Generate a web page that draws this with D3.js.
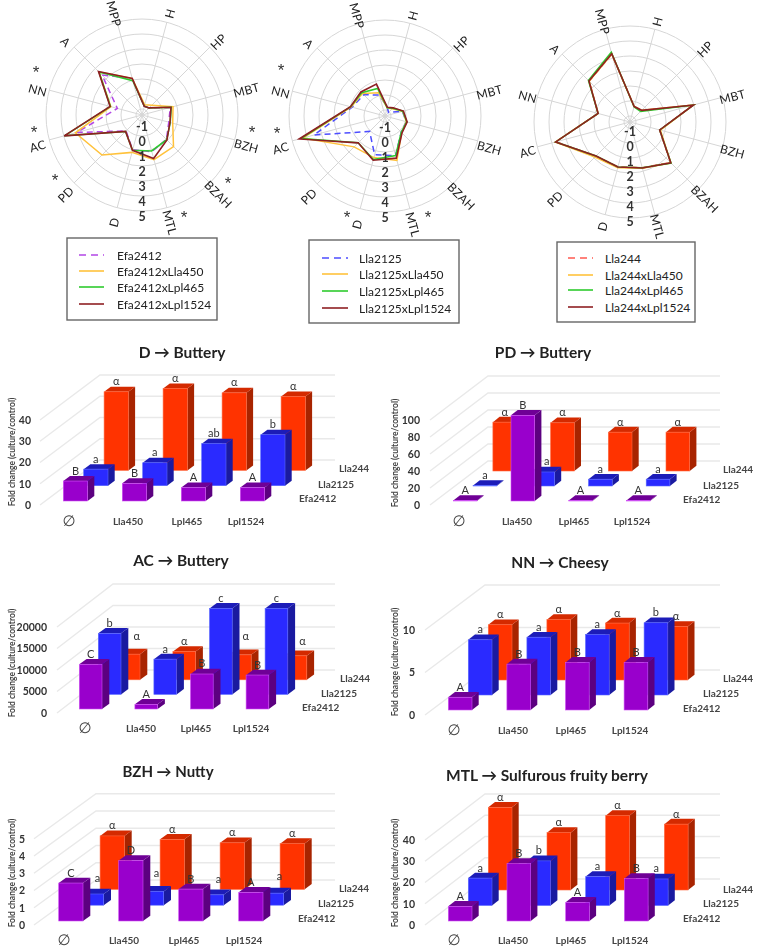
<!DOCTYPE html>
<html><head><meta charset="utf-8">
<script src="https://cdn.jsdelivr.net/npm/d3@7"></script>
<style>
html,body{margin:0;padding:0;background:#fff}
svg{display:block;filter:blur(0.45px);font-family:Lato,"Open Sans",sans-serif}
</style></head><body><div id="c"></div>
<script>
// ---------- radar data ----------
const attributes = ["H","HP","MBT","BZH","BZAH","MTL","D","PD","AC","NN","A","MPP"];
const radarTicks = [-1,0,1,2,3,4,5];
const radar1Names = ["Efa2412","Efa2412xLla450","Efa2412xLpl465","Efa2412xLpl1524"];
const radar1Base   = [-0.8,-0.73,0.55,0.45,0.9,1.13,1.0,0.1,3.1,0.3,2.37,1.13];
const radar1Lla450 = [-0.7,-0.47,0.74,0.72,1.57,1.68,1.18,2.37,3.2,0.75,2.65,1.13];
const radar1Lpl465 = [-0.8,-0.73,0.62,0.55,0.93,1.08,1.04,0.15,3.95,0.78,2.65,0.97];
const radar1Lpl1524= [-0.8,-0.73,0.6,0.53,0.95,1.6,1.04,0.15,3.97,0.8,2.7,1.13];
const radar2Names = ["Lla2125","Lla2125xLla450","Lla2125xLpl465","Lla2125xLpl1524"];
const radar2Base   = [-0.8,-1.07,-0.2,0.07,0.13,1.33,1.27,0.05,3.51,0.87,0.6,0.05];
const radar2Lla450 = [-0.83,-0.73,-0.17,0.07,0.17,1.67,1.47,1.51,4.27,0.93,0.73,0.2];
const radar2Lpl465 = [-0.83,-0.67,-0.17,0.1,0.13,1.33,1.6,1.13,4.4,0.97,0.8,0.5];
const radar2Lpl1524= [-0.8,-0.63,-0.13,0.13,0.2,1.51,1.65,1.13,4.52,0.98,0.87,0.8];
const radar3Names = ["Lla244","Lla244xLla450","Lla244xLpl465","Lla244xLpl1524"];
const radar3Base   = [-0.33,-0.32,2.96,0.65,2.42,1.75,1.7,1.82,3.72,0.8,2.45,3.28];
const radar3Lla450 = [-0.33,-0.3,2.97,0.7,2.45,1.8,1.75,1.9,3.75,0.8,2.45,3.3];
const radar3Lpl465 = [-0.35,-0.4,2.98,0.65,2.47,1.75,1.7,1.8,3.73,0.8,2.52,3.42];
const radar3Lpl1524= [-0.33,-0.3,2.98,0.65,2.45,1.77,1.71,1.8,3.73,0.8,2.47,3.31];

// ---------- bar data ----------
const strains = ["Efa2412","Lla2125","Lla244"];
const partners = ["∅","Lla450","Lpl465","Lpl1524"];
const dEfa = [9.4,8.3,6.3,6.3], dLla2125 = [7.8,10.8,19.8,24], dLla244 = [37,38.6,36.5,34.8];
const dLetters = [["B","B","A","A"],["a","a","ab","b"],["α","α","α","α"]];
const dTicks = [0,10,20,30,40];
const pdEfa = [0.6,100.8,0.6,0.6], pdLla2125 = [0.6,16.5,8,8], pdLla244 = [57.5,56.7,45.7,45.7];
const pdLetters = [["A","B","A","A"],["a","a","a","a"],["α","α","α","α"]];
const pdTicks = [0,20,40,60,80,100];
const acEfa = [10400,1085,8140,7900], acLla2125 = [14200,8200,20000,20000], acLla244 = [5970,6590,5800,5580];
const acLetters = [["C","A","B","B"],["b","a","c","c"],["α","α","α","α"]];
const acTicks = [0,5000,10000,15000,20000];
const nnEfa = [1.5,5.4,5.6,5.6], nnLla2125 = [6.5,6.8,7.1,8.5], nnLla244 = [6.5,7.1,6.7,6.3];
const nnLetters = [["A","B","B","B"],["a","a","a","b"],["α","α","α","α"]];
const nnTicks = [0,5,10];
const bzhEfa = [2.2,3.5,1.85,1.66], bzhLla2125 = [0.65,0.8,0.6,0.7], bzhLla244 = [3.1,2.9,2.7,2.65];
const bzhLetters = [["C","D","B","A"],["a","a","a","a"],["α","α","α","α"]];
const bzhTicks = [0,1,2,3,4,5];
const mtlEfa = [6.9,27,8.8,20], mtlLla2125 = [12.9,21,13.6,12.5], mtlLla244 = [38.9,27,35,31];
const mtlLetters = [["A","B","A","B"],["a","b","a","a"],["α","α","α","α"]];
const mtlTicks = [0,10,20,30,40];

// ---------- layout ----------
const svg = d3.select("#c").append("svg").attr("width",760).attr("height",948);
const TXT = "#222";

const radarColors = [[ "#b347e6","#ffc23c","#2ecb2e","#8e1f22"],
                     [ "#4d4dff","#ffc23c","#2ecb2e","#8e1f22"],
                     [ "#ff5a50","#ffc23c","#2ecb2e","#8e1f22"]];
const radars = [
 {cx:142,cy:115,names:radar1Names,series:[radar1Base,radar1Lla450,radar1Lpl465,radar1Lpl1524],lab:5,labR:108,labDy:3,
  box:[67,238,150,82],rows:[255,271,287,304],line:[79,104],text:117,
  stars:[[36,72],[34,132],[55,180],[252,132],[228,183],[184,217]]},
 {cx:385,cy:116,names:radar2Names,series:[radar2Base,radar2Lla450,radar2Lpl465,radar2Lpl1524],lab:5,labR:108,labDy:4,
  box:[309,240,150,83],rows:[258,274,291,308],line:[322,348],text:359,
  stars:[[281,70],[277,133],[347,217],[428,217]]},
 {cx:630,cy:122,names:radar3Names,series:[radar3Base,radar3Lla450,radar3Lpl465,radar3Lpl1524],lab:3,labR:106,labDy:2,
  box:[557,242,138,80],rows:[258,275,290,307],line:[568,593],text:605,stars:[]}
];
const rScale = d3.scaleLinear().domain([-1.4,5]).range([0,96]);
const angle = d3.scaleBand().domain(attributes).range([0,2*Math.PI]);
const ang = a => angle(a)+angle.bandwidth()/2;

radars.forEach((R,ri)=>{
  const g = svg.append("g").attr("transform",`translate(${R.cx},${R.cy})`);
  g.selectAll("circle.ring").data(radarTicks).join("circle")
    .attr("r",d=>rScale(d)).attr("fill","none").attr("stroke","#d6d6d6").attr("stroke-width",1);
  g.selectAll("line.sp").data(attributes).join("line")
    .attr("x1",0).attr("y1",0)
    .attr("x2",a=>rScale(5)*Math.sin(ang(a))).attr("y2",a=>-rScale(5)*Math.cos(ang(a)))
    .attr("stroke","#d6d6d6").attr("stroke-width",1);
  g.selectAll("text.ax").data(attributes).join("text")
    .attr("text-anchor","middle").attr("dominant-baseline","central")
    .attr("font-size",12).attr("letter-spacing",0.2).attr("fill",TXT)
    .attr("transform",a=>{
      const t=ang(a), deg=t*180/Math.PI, r=R.labR;
      const rot = deg>180 ? deg-270 : deg-90;
      return `translate(${r*Math.sin(t)},${R.labDy-r*Math.cos(t)}) rotate(${rot})`;
    }).text(a=>a);
  const line = d3.lineRadial().angle((d,i)=>ang(attributes[i])).radius(d=>rScale(d)).curve(d3.curveLinearClosed);
  R.series.forEach((s,i)=>{
    g.append("path").attr("d",line(s)).attr("fill","none")
      .attr("stroke",radarColors[ri][i]).attr("stroke-width",i===3?1.6:1.5)
      .attr("stroke-dasharray",i===0?"6,4":null).attr("stroke-linejoin","miter");
  });
  g.selectAll("text.tk").data(radarTicks).join("text")
    .attr("x",0).attr("y",d=>rScale(d)+R.lab).attr("text-anchor","middle").attr("dominant-baseline","central")
    .attr("font-size",12.5).attr("font-weight",700).attr("fill","#333").text(d=>d);
  R.stars.forEach(p=>{
    svg.append("text").attr("x",p[0]).attr("y",p[1]+6).attr("text-anchor","middle")
      .attr("font-size",17).attr("fill","#333").attr("font-family","Liberation Sans").text("*");
  });
  svg.append("rect").attr("x",R.box[0]).attr("y",R.box[1]).attr("width",R.box[2]).attr("height",R.box[3])
    .attr("fill","#fff").attr("stroke","#666").attr("stroke-width",1.4);
  R.names.forEach((n,i)=>{
    svg.append("line").attr("x1",R.line[0]).attr("x2",R.line[1]).attr("y1",R.rows[i]).attr("y2",R.rows[i])
      .attr("stroke",radarColors[ri][i]).attr("stroke-width",1.6).attr("stroke-dasharray",i===0?"7,5":null);
    svg.append("text").attr("x",R.text).attr("y",R.rows[i]).attr("dominant-baseline","central")
      .attr("font-size",12).attr("fill",TXT).text(n);
  });
});

const faces = [
 {front:"#9900cc",top:"#6f0096",side:"#5c0080",edge:"#d050f5"},
 {front:"#2a2aff",top:"#1c1cb8",side:"#1a1aa0",edge:"#5a6aff"},
 {front:"#ff3300",top:"#d42a00",side:"#a82400",edge:"#ff6a40"}
];
const panels = [
 {title:"D → Buttery",size:15.5,tx:182,ty:352,vals:[dEfa,dLla2125,dLla244],letters:dLetters,ticks:dTicks,
  oy:505,ty2:420,left:40,back:100,dy:45,end:335,lr:31,x0:63.3,base:501,step:59,w:24.3,sh:[20.4,-15.3],sd:[6.7,-5],
  sLab:[[299,498],[318,484],[339,468]],catY:521,cats:[69,128,187,246],yT:[12,452],nudge:{}},
 {title:"PD → Buttery",size:15.5,tx:543,ty:352,vals:[pdEfa,pdLla2125,pdLla244],letters:pdLetters,ticks:pdTicks,
  oy:505,ty2:420,left:430,back:488,dy:44,end:720,lr:420,x0:453.3,base:501,step:57.7,w:23.7,sh:[19.8,-15],sd:[6.7,-5.3],
  sLab:[[683,499],[703,485],[723,469]],catY:521,cats:[459,517,574,632],yT:[395,453],nudge:{"1,1":[4,0]}},
 {title:"AC → Buttery",size:15.5,tx:181,ty:560,vals:[acEfa,acLla2125,acLla244],letters:acLetters,ticks:acTicks,
  oy:713,ty2:627,left:57,back:113,dy:43,end:335,lr:47,x0:79.3,base:709,step:55.6,w:22.7,sh:[19,-14.6],sd:[7.3,-5.3],
  sLab:[[302,707],[321,693],[340,678]],catY:728,cats:[85,141,196,251],yT:[12,663],
  nudge:{"2,0":[8,-8],"2,2":[6,-8],"2,3":[7,-4]}},
 {title:"NN → Cheesy",size:15.5,tx:560,ty:562,vals:[nnEfa,nnLla2125,nnLla244],letters:nnLetters,ticks:nnTicks,
  oy:715,ty2:630,left:425,back:485,dy:45,end:720,lr:415,x0:448.3,base:710,step:58.6,w:23.7,sh:[20,-15],sd:[6.7,-5.3],
  sLab:[[683,708],[703,693],[723,678]],catY:730,cats:[454,513,571,630],yT:[395,662],nudge:{}},
 {title:"BZH → Nutty",size:15,tx:168,ty:771,vals:[bzhEfa,bzhLla2125,bzhLla244],letters:bzhLetters,ticks:bzhTicks,
  oy:925,ty2:838.7,left:34,back:96,dy:45,end:335,lr:25,x0:58.7,base:921,step:60,w:24.3,sh:[20.7,-15.8],sd:[7.3,-5.3],
  sLab:[[298,918],[318,903],[339,888]],catY:940,cats:[64,124,184,244],yT:[12,873],
  nudge:{"1,0":[6,-5],"1,1":[5,-8],"1,2":[7,-5],"1,3":[8,-7]}},
 {title:"MTL → Sulfurous fruity berry",size:15.5,tx:547,ty:775,vals:[mtlEfa,mtlLla2125,mtlLla244],letters:mtlLetters,ticks:mtlTicks,
  oy:925,ty2:840,left:425,back:485,dy:46,end:720,lr:415,x0:448.3,base:921,step:58.7,w:23.7,sh:[20,-15.5],sd:[6.7,-5.3],
  sLab:[[683,918],[703,903],[723,889]],catY:940,cats:[454,513,571,630],yT:[395,873],nudge:{}}
];

panels.forEach(P=>{
  const g = svg.append("g");
  const maxT = d3.max(P.ticks);
  const y = d3.scaleLinear().domain([0,maxT]).range([P.oy,P.ty2]);
  const h = v => y(0)-y(v);
  const x = d3.scaleBand().domain(partners).range([P.x0,P.x0+3*P.step+P.w]).paddingInner(1-P.w/P.step).paddingOuter(0);
  const depth = d3.scalePoint().domain(strains).range([0,2]);

  g.append("g").selectAll("path").data(P.ticks).join("path")
    .attr("d",t=>`M${P.left},${y(t)}L${P.back},${y(t)-P.dy}L${P.end},${y(t)-P.dy}`)
    .attr("fill","none").attr("stroke","#e9e9e9").attr("stroke-width",1.4);

  const axis = g.append("g").attr("transform",`translate(${P.lr},0)`)
    .call(d3.axisLeft(y).tickValues(P.ticks).tickSize(0).tickPadding(0).tickFormat(d3.format("d")));
  axis.select(".domain").remove();
  axis.selectAll("text").attr("font-size",10.5).attr("font-weight",700).attr("fill","#333")
    .attr("font-family","Lato");

  [2,1,0].forEach(si=>{
    const sname = strains[si], F = faces[si], k = depth(sname);
    P.vals[si].forEach((v,ci)=>{
      const fx = x(partners[ci])+k*P.sh[0], by = P.base+k*P.sh[1], ty = by-h(v), w = x.bandwidth();
      const [sx,sy] = P.sd;
      g.append("path").attr("fill",F.side)
        .attr("d",`M${fx+w},${by}L${fx+w+sx},${by+sy}L${fx+w+sx},${ty+sy}L${fx+w},${ty}Z`);
      g.append("path").attr("fill",F.top)
        .attr("d",`M${fx},${ty}L${fx+sx},${ty+sy}L${fx+w+sx},${ty+sy}L${fx+w},${ty}Z`);
      g.append("rect").attr("x",fx).attr("y",ty).attr("width",w).attr("height",h(v))
        .attr("fill",F.front).attr("stroke",F.edge).attr("stroke-width",0.6);
    });
  });
  [2,1,0].forEach(si=>{
    const k = depth(strains[si]);
    P.vals[si].forEach((v,ci)=>{
      const n = P.nudge[si+","+ci]||[0,0];
      g.append("text")
        .attr("x",x(partners[ci])+k*P.sh[0]+x.bandwidth()/2+n[0])
        .attr("y",P.base+k*P.sh[1]-h(v)-6.5+n[1])
        .attr("text-anchor","middle").attr("font-size",11).attr("fill","#333").text(P.letters[si][ci]);
    });
  });
  strains.forEach((s,i)=>{
    g.append("text").attr("x",P.sLab[i][0]).attr("y",P.sLab[i][1]).attr("dominant-baseline","central")
      .attr("font-size",10).attr("font-weight",700).attr("fill","#444").text(s);
  });
  partners.forEach((c,i)=>{
    g.append("text").attr("x",P.cats[i]).attr("y",P.catY).attr("text-anchor","middle").attr("dominant-baseline","central")
      .attr("font-size",i===0?15:10).attr("font-weight",i===0?400:700).attr("fill","#444")
      .attr("font-family",i===0?"DejaVu Sans":"Lato").text(c);
  });
  g.append("text").attr("transform",`translate(${P.yT[0]},${P.yT[1]}) rotate(-90)`)
    .attr("text-anchor","middle").attr("dominant-baseline","central")
    .attr("font-size",8.5).attr("font-weight",700).attr("fill","#444").text("Fold change (culture/control)");
  g.append("text").attr("x",P.tx).attr("y",P.ty).attr("text-anchor","middle").attr("dominant-baseline","central")
    .attr("font-size",P.size).attr("font-weight",700).attr("fill","#222").text(P.title);
});
</script></body></html>
